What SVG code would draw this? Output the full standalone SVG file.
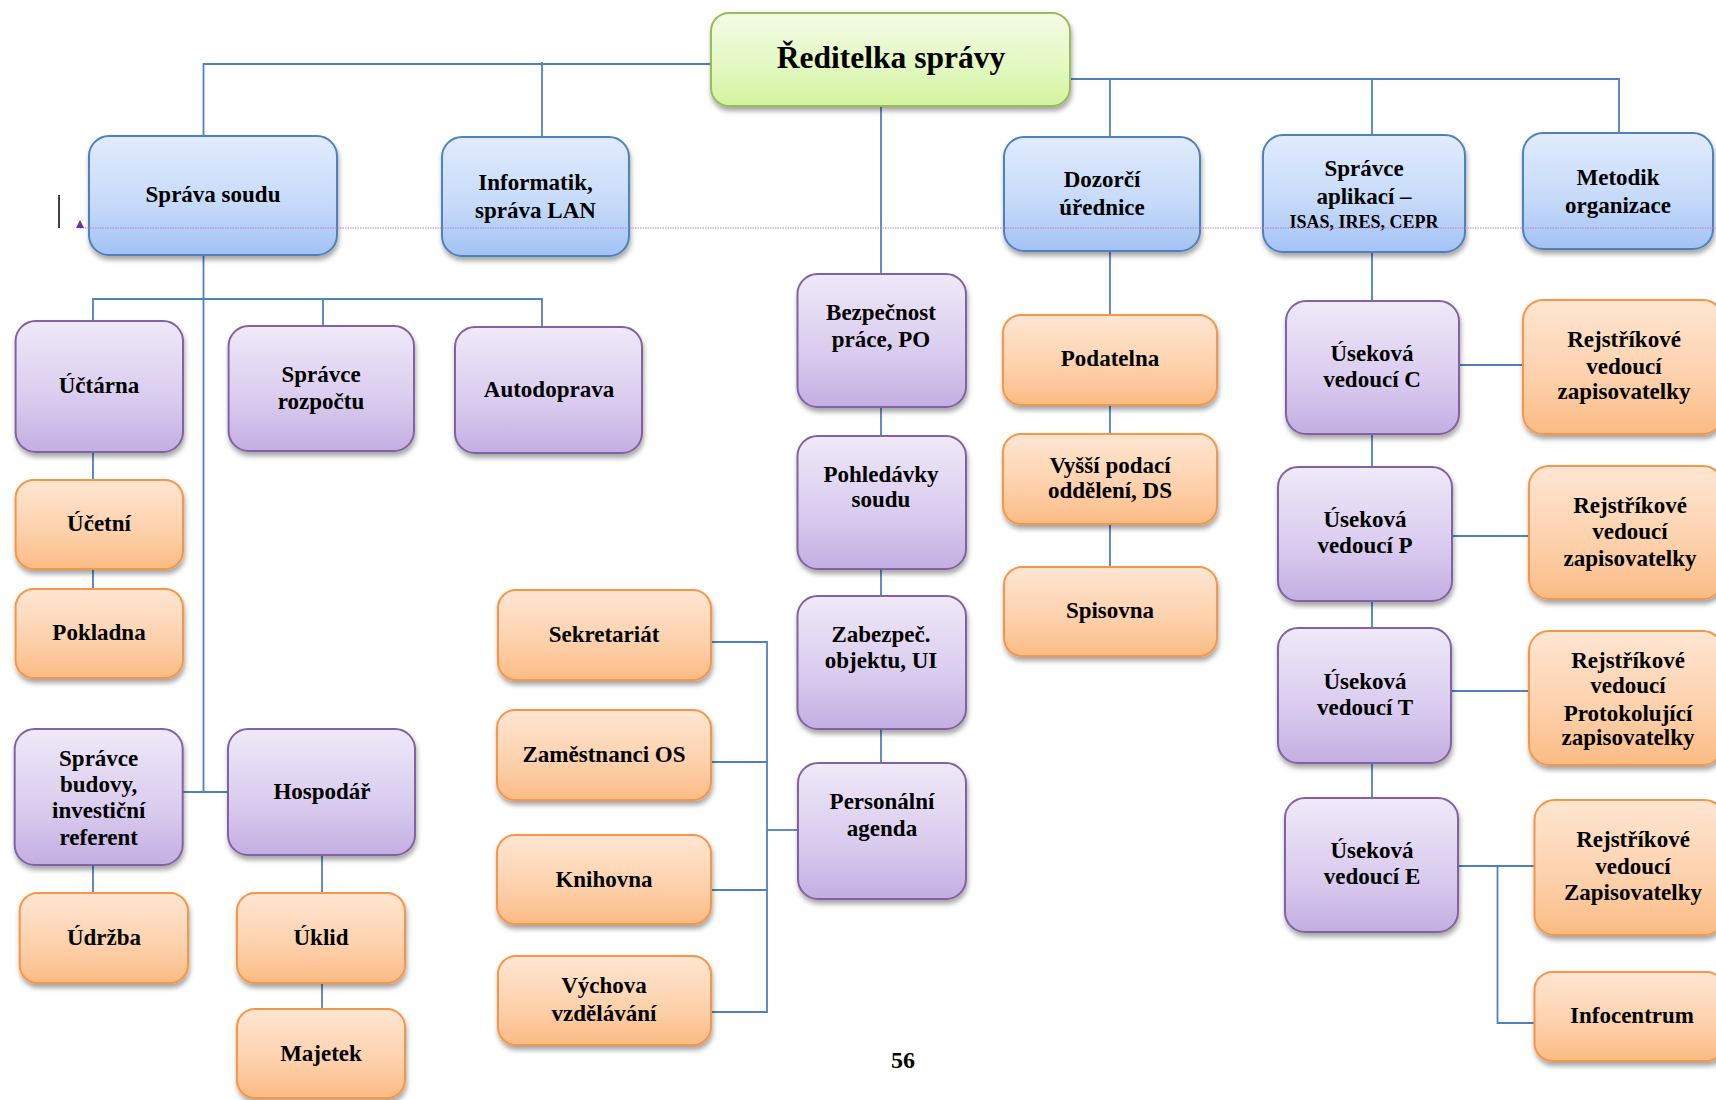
<svg xmlns="http://www.w3.org/2000/svg" width="1716" height="1100" viewBox="0 0 1716 1100">
<defs>
<linearGradient id="gBlue" x1="0" y1="0" x2="0" y2="1"><stop offset="0" stop-color="#e1ecfd"/><stop offset="0.6" stop-color="#c4d9f9"/><stop offset="1" stop-color="#a2c2f5"/></linearGradient>
<linearGradient id="gPurple" x1="0" y1="0" x2="0" y2="1"><stop offset="0" stop-color="#efe9f8"/><stop offset="0.6" stop-color="#d9cbee"/><stop offset="1" stop-color="#c3aee2"/></linearGradient>
<linearGradient id="gOrange" x1="0" y1="0" x2="0" y2="1"><stop offset="0" stop-color="#fee6d3"/><stop offset="0.6" stop-color="#fdd0aa"/><stop offset="1" stop-color="#fbbb84"/></linearGradient>
<linearGradient id="gGreen" x1="0" y1="0" x2="0" y2="1"><stop offset="0" stop-color="#f3fce5"/><stop offset="0.6" stop-color="#e2f8bf"/><stop offset="1" stop-color="#d3f49e"/></linearGradient>
<filter id="sh" x="-10%" y="-10%" width="120%" height="130%"><feDropShadow dx="1" dy="4" stdDeviation="2.5" flood-color="#000" flood-opacity="0.35"/></filter>
<style>
.b{fill:url(#gBlue);stroke:#4f81bd;stroke-width:2;filter:url(#sh)}
.p{fill:url(#gPurple);stroke:#8064a2;stroke-width:2;filter:url(#sh)}
.o{fill:url(#gOrange);stroke:#f79646;stroke-width:2;filter:url(#sh)}
.g{fill:url(#gGreen);stroke:#9bbb59;stroke-width:2;filter:url(#sh)}
text{font-family:"Liberation Serif","DejaVu Serif",serif;font-weight:bold;font-size:23px;fill:#000;text-anchor:middle}
.big{font-size:31.5px}
.sm{font-size:18px}
.pg{font-size:24px}
.con{fill:none;stroke:#4f81bd;stroke-width:1.8}
</style>
</defs>

<g id="connectors" class="con">
<polyline points="711,64 203.5,64 203.5,136"/>
<line x1="542" y1="62" x2="542" y2="137"/>
<polyline points="1070,79 1619,79 1619,133"/>
<line x1="1110" y1="79" x2="1110" y2="137"/>
<line x1="1372" y1="79" x2="1372" y2="135"/>
<line x1="881" y1="106" x2="881" y2="274"/>
<line x1="881" y1="407" x2="881" y2="436"/>
<line x1="881" y1="569" x2="881" y2="596"/>
<line x1="881" y1="729" x2="881" y2="763"/>
<line x1="203.5" y1="255" x2="203.5" y2="792"/>
<polyline points="93,321 93,299 542,299 542,327"/>
<line x1="323" y1="299" x2="323" y2="326"/>
<line x1="183" y1="792" x2="228" y2="792"/>
<line x1="93" y1="452" x2="93" y2="480"/>
<line x1="93" y1="569" x2="93" y2="589"/>
<line x1="93" y1="865" x2="93" y2="893"/>
<line x1="322" y1="855" x2="322" y2="893"/>
<line x1="322" y1="983" x2="322" y2="1009"/>
<polyline points="711,642 767,642 767,1012 711,1012"/>
<line x1="711" y1="762" x2="767" y2="762"/>
<line x1="711" y1="890" x2="767" y2="890"/>
<line x1="767" y1="830" x2="798" y2="830"/>
<line x1="1110" y1="251" x2="1110" y2="315"/>
<line x1="1110" y1="405" x2="1110" y2="434"/>
<line x1="1110" y1="524" x2="1110" y2="567"/>
<line x1="1372" y1="252" x2="1372" y2="301"/>
<line x1="1372" y1="434" x2="1372" y2="467"/>
<line x1="1372" y1="601" x2="1372" y2="628"/>
<line x1="1372" y1="763" x2="1372" y2="798"/>
<line x1="1459" y1="365" x2="1523" y2="365"/>
<line x1="1452" y1="536" x2="1529" y2="536"/>
<line x1="1451" y1="691" x2="1529" y2="691"/>
<line x1="1458" y1="866" x2="1534.5" y2="866"/>
<polyline points="1497.5,866 1497.5,1023 1534.5,1023"/>
</g>

<g id="reditelka"><rect class="g" x="711" y="13" width="359" height="93" rx="18"/><text class="big" x="891" y="68">Ředitelka správy</text></g>

<g id="sprava-soudu"><rect class="b" x="89" y="136" width="248" height="119" rx="20"/><text x="213" y="202">Správa soudu</text></g>
<g id="informatik"><rect class="b" x="442" y="137" width="187" height="119" rx="20"/><text x="535.5" y="190">Informatik,</text><text x="535.5" y="218">správa LAN</text></g>
<g id="dozorci"><rect class="b" x="1004" y="137" width="196" height="114" rx="20"/><text x="1102" y="187">Dozorčí</text><text x="1102" y="215">úřednice</text></g>
<g id="spravce-aplikaci"><rect class="b" x="1263" y="135" width="202" height="117" rx="20"/><text x="1364" y="176">Správce</text><text x="1364" y="204">aplikací –</text><text class="sm" x="1364" y="228">ISAS, IRES, CEPR</text></g>
<g id="metodik"><rect class="b" x="1523" y="133" width="190" height="116" rx="20"/><text x="1618" y="185">Metodik</text><text x="1618" y="213">organizace</text></g>

<g id="uctarna"><rect class="p" x="15.6" y="321" width="167.4" height="131" rx="20"/><text x="99" y="393">Účtárna</text></g>
<g id="spravce-rozpoctu"><rect class="p" x="228.6" y="326" width="185.4" height="125" rx="20"/><text x="321" y="382">Správce</text><text x="321" y="409">rozpočtu</text></g>
<g id="autodoprava"><rect class="p" x="455" y="327" width="187" height="126" rx="20"/><text x="549" y="397">Autodoprava</text></g>
<g id="ucetni"><rect class="o" x="15.6" y="480" width="167.4" height="89" rx="18"/><text x="99" y="531">Účetní</text></g>
<g id="pokladna"><rect class="o" x="15.6" y="589" width="167.4" height="89" rx="18"/><text x="99" y="640">Pokladna</text></g>
<g id="spravce-budovy"><rect class="p" x="14.7" y="729" width="168" height="136" rx="20"/><text x="98.7" y="766">Správce</text><text x="98.7" y="792">budovy,</text><text x="98.7" y="818">investiční</text><text x="98.7" y="845">referent</text></g>
<g id="hospodar"><rect class="p" x="228" y="729" width="187" height="126" rx="20"/><text x="322" y="799">Hospodář</text></g>
<g id="udrzba"><rect class="o" x="19.7" y="893" width="168.3" height="90" rx="18"/><text x="104" y="945">Údržba</text></g>
<g id="uklid"><rect class="o" x="237" y="893" width="168" height="90" rx="18"/><text x="321" y="945">Úklid</text></g>
<g id="majetek"><rect class="o" x="237" y="1009" width="168" height="89" rx="18"/><text x="321" y="1061">Majetek</text></g>

<g id="sekretariat"><rect class="o" x="498" y="590" width="213" height="90" rx="18"/><text x="604" y="642">Sekretariát</text></g>
<g id="zamestnanci"><rect class="o" x="497" y="710" width="214" height="90" rx="18"/><text x="604" y="762">Zaměstnanci OS</text></g>
<g id="knihovna"><rect class="o" x="497" y="835" width="214" height="89" rx="18"/><text x="604" y="887">Knihovna</text></g>
<g id="vychova"><rect class="o" x="498" y="956" width="213" height="89" rx="18"/><text x="604" y="993">Výchova</text><text x="604" y="1021">vzdělávání</text></g>

<g id="bezpecnost"><rect class="p" x="797.5" y="274" width="168.5" height="133" rx="20"/><text x="881" y="320">Bezpečnost</text><text x="881" y="347">práce, PO</text></g>
<g id="pohledavky"><rect class="p" x="797.5" y="436" width="168.5" height="133" rx="20"/><text x="881" y="482">Pohledávky</text><text x="881" y="507">soudu</text></g>
<g id="zabezpec"><rect class="p" x="797.5" y="596" width="168.5" height="133" rx="20"/><text x="881" y="642">Zabezpeč.</text><text x="881" y="668">objektu, UI</text></g>
<g id="personalni"><rect class="p" x="798" y="763" width="168" height="136" rx="20"/><text x="882" y="809">Personální</text><text x="882" y="836">agenda</text></g>

<g id="podatelna"><rect class="o" x="1003" y="315" width="214" height="90" rx="18"/><text x="1110" y="366">Podatelna</text></g>
<g id="vyssi-podaci"><rect class="o" x="1003" y="434" width="214" height="90" rx="18"/><text x="1110" y="473">Vyšší podací</text><text x="1110" y="498">oddělení, DS</text></g>
<g id="spisovna"><rect class="o" x="1004" y="567" width="213" height="89" rx="18"/><text x="1110" y="618">Spisovna</text></g>

<g id="usekova-c"><rect class="p" x="1286" y="301" width="173" height="133" rx="20"/><text x="1372" y="361">Úseková</text><text x="1372" y="387">vedoucí C</text></g>
<g id="usekova-p"><rect class="p" x="1278" y="467" width="174" height="134" rx="20"/><text x="1365" y="527">Úseková</text><text x="1365" y="553">vedoucí P</text></g>
<g id="usekova-t"><rect class="p" x="1278" y="628" width="173" height="135" rx="20"/><text x="1365" y="689">Úseková</text><text x="1365" y="715">vedoucí T</text></g>
<g id="usekova-e"><rect class="p" x="1285" y="798" width="173" height="134" rx="20"/><text x="1372" y="858">Úseková</text><text x="1372" y="884">vedoucí E</text></g>

<g id="rejstrik-c"><rect class="o" x="1523" y="300" width="200" height="134" rx="20"/><text x="1624" y="347">Rejstříkové</text><text x="1624" y="374">vedoucí</text><text x="1624" y="399">zapisovatelky</text></g>
<g id="rejstrik-p"><rect class="o" x="1529" y="466" width="194" height="133" rx="20"/><text x="1630" y="513">Rejstříkové</text><text x="1630" y="539">vedoucí</text><text x="1630" y="566">zapisovatelky</text></g>
<g id="rejstrik-t"><rect class="o" x="1529" y="631" width="194" height="134" rx="20"/><text x="1628" y="668">Rejstříkové</text><text x="1628" y="693">vedoucí</text><text x="1628" y="721">Protokolující</text><text x="1628" y="745">zapisovatelky</text></g>
<g id="rejstrik-e"><rect class="o" x="1534.5" y="800" width="190" height="135" rx="20"/><text x="1633" y="847">Rejstříkové</text><text x="1633" y="874">vedoucí</text><text x="1633" y="900">Zapisovatelky</text></g>
<g id="infocentrum"><rect class="o" x="1534.5" y="972" width="190" height="89" rx="18"/><text x="1632" y="1023">Infocentrum</text></g>

<text class="pg" x="903" y="1068">56</text>

<line x1="59" y1="195" x2="59" y2="228" stroke="#000" stroke-width="1.5"/>
<line x1="80" y1="228" x2="1716" y2="228" stroke="#c47fc4" stroke-width="1" stroke-dasharray="1.5,1"/>
<polygon points="76,228 84,228 80,220" fill="#7030a0"/>
</svg>
